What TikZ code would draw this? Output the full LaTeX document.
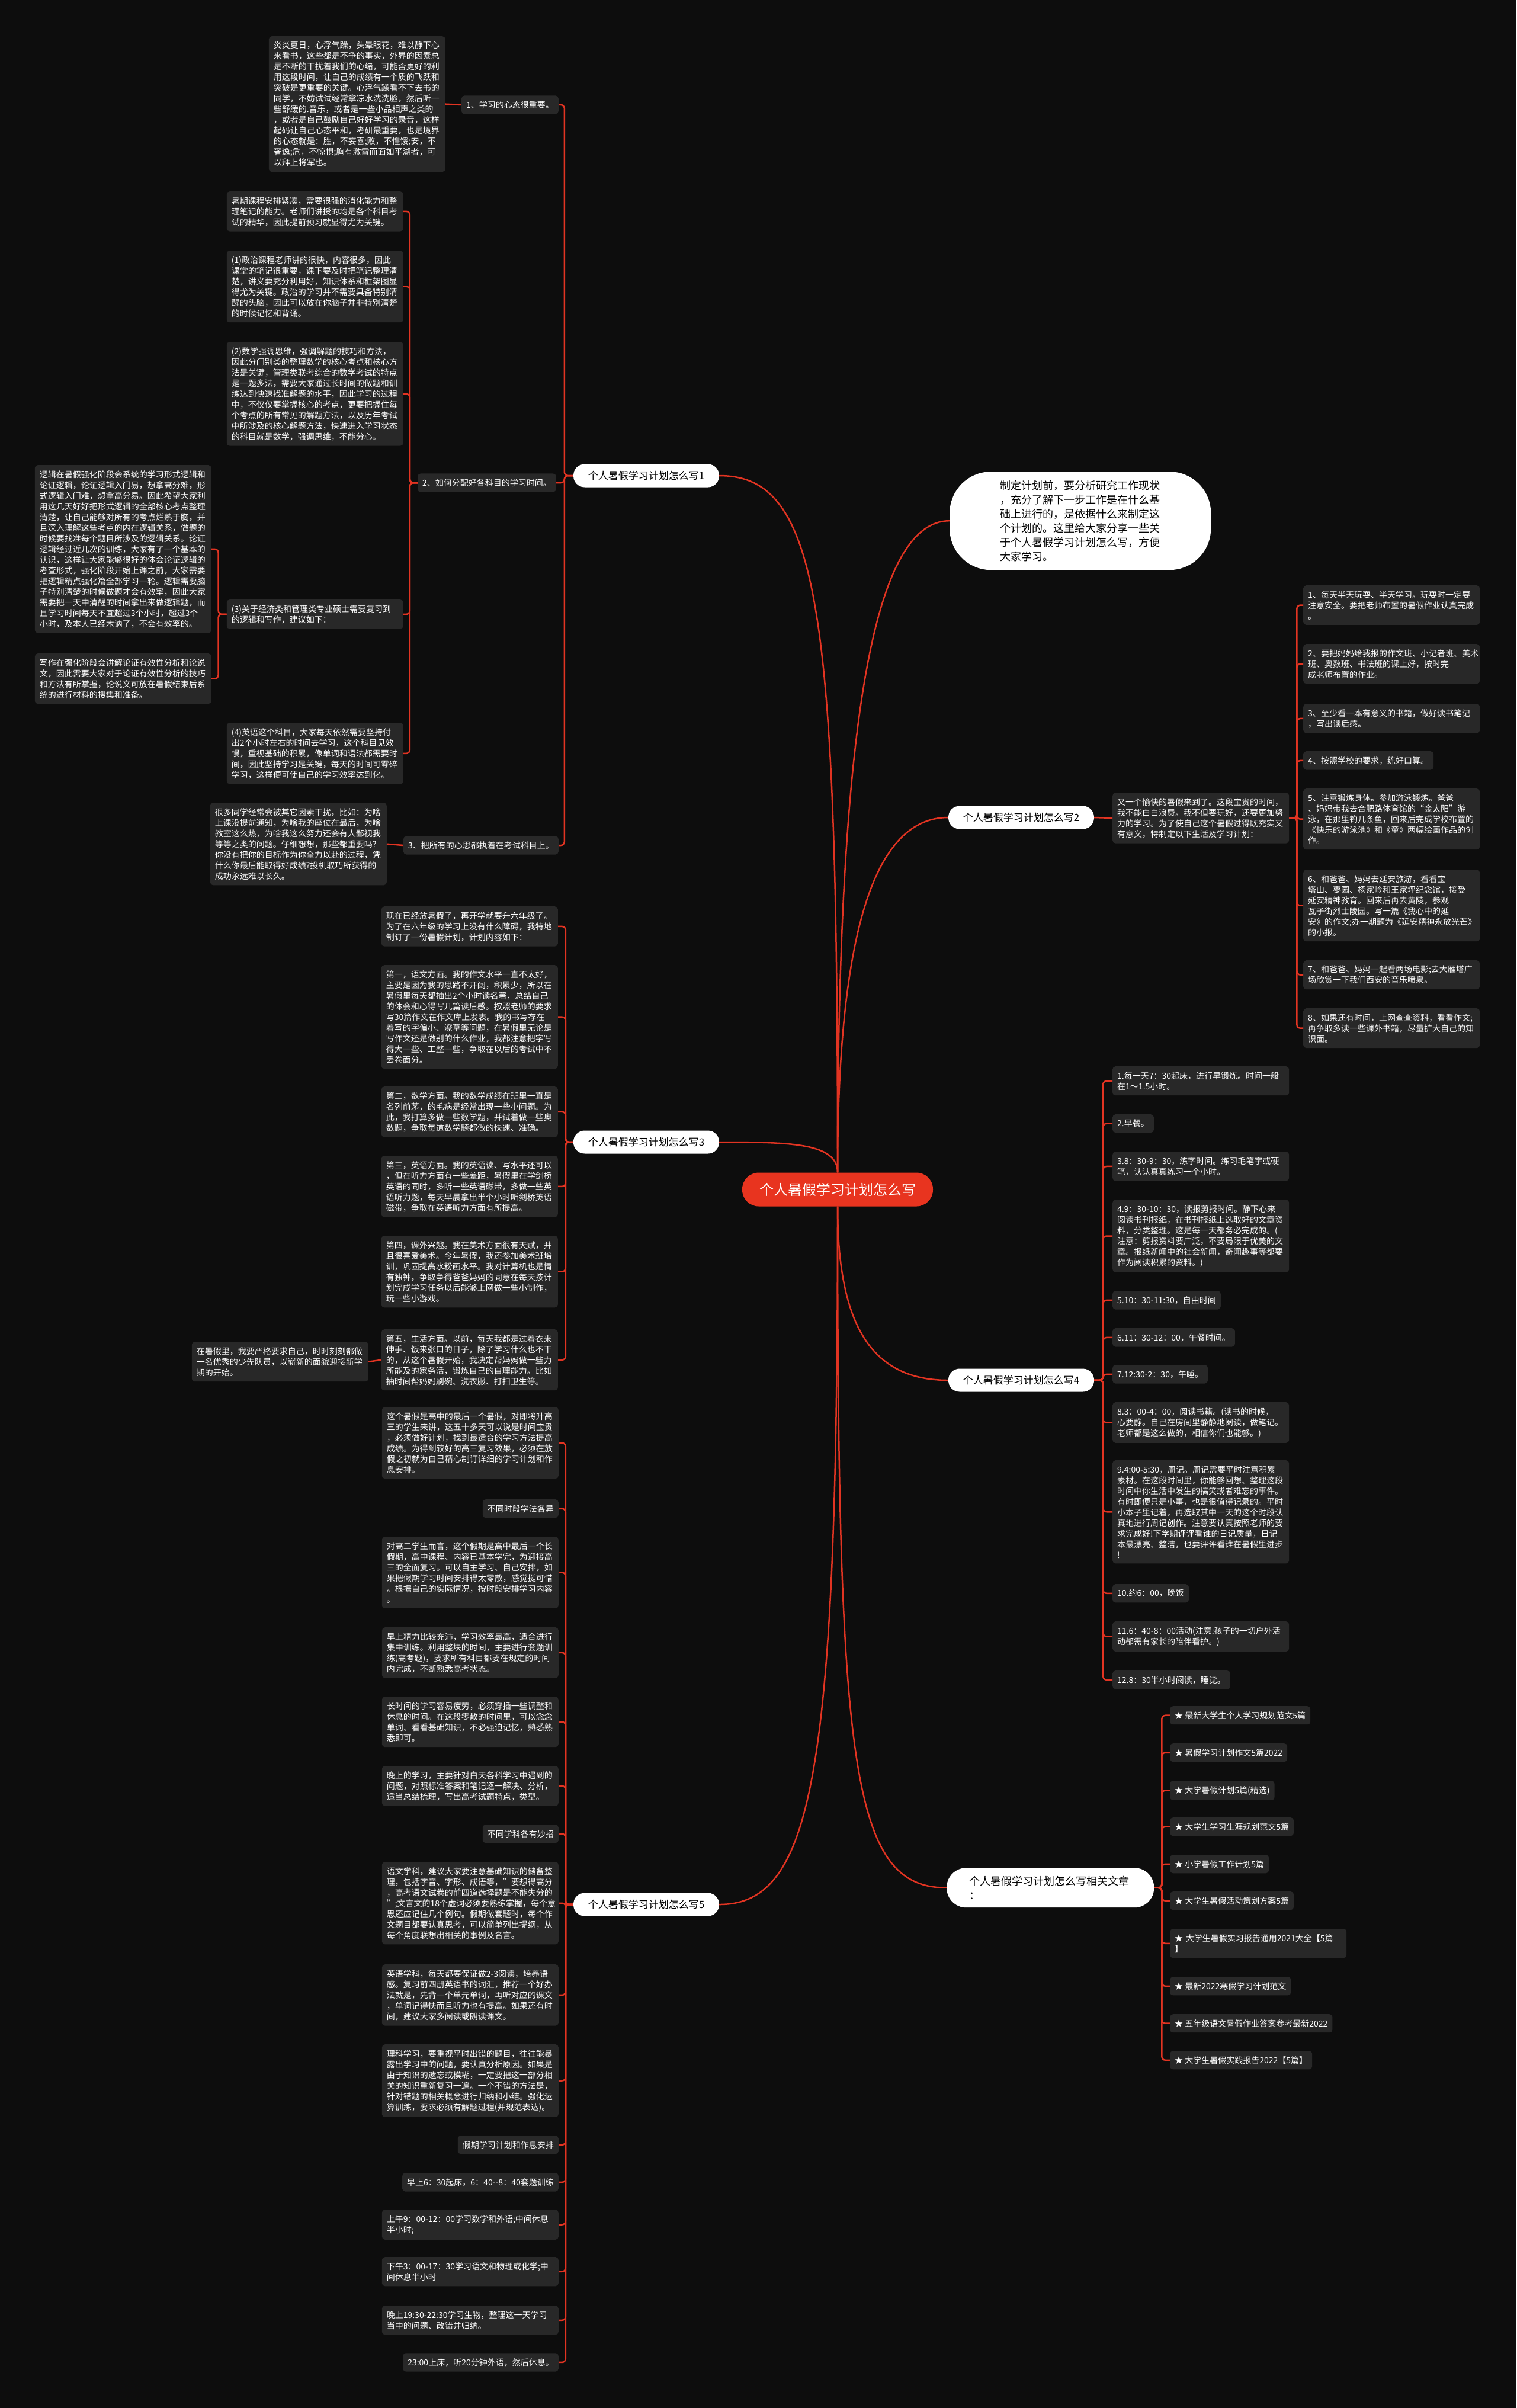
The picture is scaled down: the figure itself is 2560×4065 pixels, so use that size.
\documentclass[tikz,border=0pt]{standalone}
\usepackage{fontspec}
\setmainfont{Noto Sans CJK SC}
\usetikzlibrary{positioning}
\definecolor{bgdark}{RGB}{13,13,13}
\definecolor{cardgray}{RGB}{40,40,40}
\definecolor{linkred}{RGB}{226,52,34}
\definecolor{hubred}{RGB}{232,52,31}
\tikzset{
card/.style={fill=cardgray,rounded corners=5pt,text=white,align=left,text width=282pt,inner xsep=8pt,inner ysep=9pt,font=\fontsize{14}{18}\selectfont},
tag/.style={fill=cardgray,rounded corners=5pt,text=white,align=left,inner xsep=8pt,inner ysep=9pt,font=\fontsize{14}{18}\selectfont},
branch/.style={fill=white,rounded corners=19pt,text=black,minimum width=246pt,minimum height=39pt,font=\fontsize{17}{20}\selectfont},
hub/.style={fill=hubred,rounded corners=28pt,text=white,minimum width=322pt,minimum height=57pt,font=\fontsize{24}{28}\selectfont},
link/.style={draw=linkred,line width=2.5pt,rounded corners=6pt},
sweep/.style={draw=linkred,line width=2.5pt}
}

\begin{document}
\begin{tikzpicture}[x=1pt,y=-1pt]
\fill[bgdark] (0,0) rectangle (2560,4065);
\useasboundingbox (0,0) rectangle (2560,4065);

% centre and main branches
\node[hub](plan) at (1414,2008){个人暑假学习计划怎么写};
\node[branch](b1) at (1091,803){个人暑假学习计划怎么写1};
\node[branch](b2) at (1724,1380){个人暑假学习计划怎么写2};
\node[branch](b3) at (1091,1928){个人暑假学习计划怎么写3};
\node[branch](b4) at (1724,2330){个人暑假学习计划怎么写4};
\node[branch](b5) at (1091,3215){个人暑假学习计划怎么写5};
\node[fill=white,rounded corners=70pt,text=black,anchor=north west,minimum width=441pt,minimum height=166pt,text width=270pt,align=left,font=\fontsize{18}{24}\selectfont](intro) at (1603,796){制定计划前，要分析研究工作现状\\，充分了解下一步工作是在什么基\\础上进行的，是依据什么来制定这\\个计划的。这里给大家分享一些关\\于个人暑假学习计划怎么写，方便\\大家学习。};
\node[fill=white,rounded corners=33pt,text=black,anchor=north west,minimum width=350pt,minimum height=67pt,text width=273pt,align=left,font=\fontsize{18}{24}\selectfont](related) at (1598,3153){个人暑假学习计划怎么写相关文章\\：};

% branch 1
\node[tag,anchor=east](mood) at (943,177){1、学习的心态很重要。};
\node[card,anchor=north east](moodtxt) at (752,61){炎炎夏日，心浮气躁，头晕眼花，难以静下心\\来看书，这些都是不争的事实，外界的因素总\\是不断的干扰着我们的心绪，可能否更好的利\\用这段时间，让自己的成绩有一个质的飞跃和\\突破是更重要的关键。心浮气躁看不下去书的\\同学，不妨试试经常拿凉水洗洗脸，然后听一\\些舒缓的.音乐，或者是一些小品相声之类的\\，或者是自己鼓励自己好好学习的录音，这样\\起码让自己心态平和，考研最重要，也是境界\\的心态就是：胜，不妄喜;败，不惶馁;安，不\\奢逸;危，不惊惧;胸有激雷而面如平湖者，可\\以拜上将军也。};
\node[tag,anchor=east](alloc) at (939,815){2、如何分配好各科目的学习时间。};
\node[card,anchor=north east](alloca) at (681,323){暑期课程安排紧凑，需要很强的消化能力和整\\理笔记的能力。老师们讲授的均是各个科目考\\试的精华，因此提前预习就显得尤为关键。};
\node[card,anchor=north east](allocb) at (681,423){(1)政治课程老师讲的很快，内容很多，因此\\课堂的笔记很重要，课下要及时把笔记整理清\\楚，讲义要充分利用好，知识体系和框架图显\\得尤为关键。政治的学习并不需要具备特别清\\醒的头脑，因此可以放在你脑子并非特别清楚\\的时候记忆和背诵。};
\node[card,anchor=north east](allocc) at (681,577){(2)数学强调思维，强调解题的技巧和方法，\\因此分门别类的整理数学的核心考点和核心方\\法是关键，管理类联考综合的数学考试的特点\\是一题多法，需要大家通过长时间的做题和训\\练达到快速找准解题的水平，因此学习的过程\\中，不仅仅要掌握核心的考点，更要把握住每\\个考点的所有常见的解题方法，以及历年考试\\中所涉及的核心解题方法，快速进入学习状态\\的科目就是数学，强调思维，不能分心。};
\node[card,anchor=north east](allocd) at (681,1012){(3)关于经济类和管理类专业硕士需要复习到\\的逻辑和写作，建议如下：};
\node[card,anchor=north east](logic) at (357,785){逻辑在暑假强化阶段会系统的学习形式逻辑和\\论证逻辑，论证逻辑入门易，想拿高分难，形\\式逻辑入门难，想拿高分易。因此希望大家利\\用这几天好好把形式逻辑的全部核心考点整理\\清楚，让自己能够对所有的考点烂熟于胸，并\\且深入理解这些考点的内在逻辑关系，做题的\\时候要找准每个题目所涉及的逻辑关系。论证\\逻辑经过近几次的训练，大家有了一个基本的\\认识，这样让大家能够很好的体会论证逻辑的\\考查形式，强化阶段开始上课之前，大家需要\\把逻辑精点强化篇全部学习一轮。逻辑需要脑\\子特别清楚的时候做题才会有效率，因此大家\\需要把一天中清醒的时间拿出来做逻辑题，而\\且学习时间每天不宜超过3个小时，超过3个\\小时，及本人已经木讷了，不会有效率的。};
\node[card,anchor=north east](essay) at (357,1103){写作在强化阶段会讲解论证有效性分析和论说\\文，因此需要大家对于论证有效性分析的技巧\\和方法有所掌握，论说文可放在暑假结束后系\\统的进行材料的搜集和准备。};
\node[card,anchor=north east](allocE) at (681,1220){(4)英语这个科目，大家每天依然需要坚持付\\出2个小时左右的时间去学习，这个科目见效\\慢，重视基础的积累，像单词和语法都需要时\\间，因此坚持学习是关键，每天的时间可零碎\\学习，这样便可使自己的学习效率达到化。};
\node[tag,anchor=east](focus) at (943,1427){3、把所有的心思都执着在考试科目上。};
\node[card,anchor=north east](focustxt) at (653,1355){很多同学经常会被其它因素干扰，比如：为啥\\上课没提前通知，为啥我的座位在最后，为啥\\教室这么热，为啥我这么努力还会有人鄙视我\\等等之类的问题。仔细想想，那些都重要吗?\\你没有把你的目标作为你全力以赴的过程，凭\\什么你最后能取得好成绩?投机取巧所获得的\\成功永远难以长久。};

% branch 2
\node[card,anchor=north west](b2txt) at (1878,1338){又一个愉快的暑假来到了。这段宝贵的时间，\\我不能白白浪费。我不但要玩好，还要更加努\\力的学习。为了使自己这个暑假过得既充实又\\有意义，特制定以下生活及学习计划：};
\node[card,anchor=north west](goal1) at (2200,988){1、每天半天玩耍、半天学习。玩耍时一定要\\注意安全。要把老师布置的暑假作业认真完成\\。};
\node[card,anchor=north west](goal2) at (2200,1087){2、要把妈妈给我报的作文班、小记者班、美术\\班、奥数班、书法班的课上好，按时完\\成老师布置的作业。};
\node[card,anchor=north west](goal3) at (2200,1188){3、至少看一本有意义的书籍，做好读书笔记\\，写出读后感。};
\node[tag,anchor=north west](goal4) at (2200,1268){4、按照学校的要求，练好口算。};
\node[card,anchor=north west](goal5) at (2200,1331){5、注意锻炼身体。参加游泳锻炼。爸爸\\、妈妈带我去合肥路体育馆的“金太阳”游\\泳，在那里钓几条鱼，回来后完成学校布置的\\《快乐的游泳池》和《童》两幅绘画作品的创\\作。};
\node[card,anchor=north west](goal6) at (2200,1468){6、和爸爸、妈妈去延安旅游，看看宝\\塔山、枣园、杨家岭和王家坪纪念馆，接受\\延安精神教育。回来后再去黄陵，参观\\瓦子街烈士陵园。写一篇《我心中的延\\安》的作文;办一期题为《延安精神永放光芒》\\的小报。};
\node[card,anchor=north west](goal7) at (2200,1621){7、和爸爸、妈妈一起看两场电影;去大雁塔广\\场欣赏一下我们西安的音乐喷泉。};
\node[card,anchor=north west](goal8) at (2200,1702){8、如果还有时间，上网查查资料，看看作文;\\再争取多读一些课外书籍，尽量扩大自己的知\\识面。};

% branch 3
\node[card,anchor=north east](grade6) at (942,1530){现在已经放暑假了，再开学就要升六年级了。\\为了在六年级的学习上没有什么障碍，我特地\\制订了一份暑假计划，计划内容如下：};
\node[card,anchor=north east](chinese) at (942,1629){第一，语文方面。我的作文水平一直不太好，\\主要是因为我的思路不开阔，积累少，所以在\\暑假里每天都抽出2个小时读名著，总结自己\\的体会和心得写几篇读后感。按照老师的要求\\写30篇作文在作文库上发表。我的书写存在\\着写的字偏小、潦草等问题，在暑假里无论是\\写作文还是做别的什么作业，我都注意把字写\\得大一些、工整一些，争取在以后的考试中不\\丢卷面分。};
\node[card,anchor=north east](maths) at (942,1834){第二，数学方面。我的数学成绩在班里一直是\\名列前茅，的毛病是经常出现一些小问题。为\\此，我打算多做一些数学题，并试着做一些奥\\数题，争取每道数学题都做的快速、准确。};
\node[card,anchor=north east](english) at (942,1951){第三，英语方面。我的英语读、写水平还可以\\，但在听力方面有一些差距，暑假里在学剑桥\\英语的同时，多听一些英语磁带，多做一些英\\语听力题，每天早晨拿出半个小时听剑桥英语\\磁带，争取在英语听力方面有所提高。};
\node[card,anchor=north east](hobby) at (942,2086){第四，课外兴趣。我在美术方面很有天赋，并\\且很喜爱美术。今年暑假，我还参加美术班培\\训，巩固提高水粉画水平。我对计算机也是情\\有独钟，争取争得爸爸妈妈的同意在每天按计\\划完成学习任务以后能够上网做一些小制作，\\玩一些小游戏。};
\node[card,anchor=north east](life) at (942,2244){第五，生活方面。以前，每天我都是过着衣来\\伸手、饭来张口的日子，除了学习什么也不干\\的，从这个暑假开始，我决定帮妈妈做一些力\\所能及的家务活，锻炼自己的自理能力。比如\\抽时间帮妈妈刷碗、洗衣服、打扫卫生等。};
\node[card,anchor=north east](pioneer) at (622,2265){在暑假里，我要严格要求自己，时时刻刻都做\\一名优秀的少先队员，以崭新的面貌迎接新学\\期的开始。};

% branch 4
\node[card,anchor=north west](t1) at (1878,1800){1.每一天7：30起床，进行早锻炼。时间一般\\在1～1.5小时。};
\node[tag,anchor=north west](t2) at (1878,1881){2.早餐。};
\node[card,anchor=north west](t3) at (1878,1944){3.8：30-9：30，练字时间。练习毛笔字或硬\\笔，认认真真练习一个小时。};
\node[card,anchor=north west](t4) at (1878,2025){4.9：30-10：30，读报剪报时间。静下心来\\阅读书刊报纸，在书刊报纸上选取好的文章资\\料，分类整理。这是每一天都务必完成的。(\\注意：剪报资料要广泛，不要局限于优美的文\\章。报纸新闻中的社会新闻，奇闻趣事等都要\\作为阅读积累的资料。)};
\node[tag,anchor=north west](t5) at (1878,2179){5.10：30-11:30，自由时间};
\node[tag,anchor=north west](t6) at (1878,2242){6.11：30-12：00，午餐时间。};
\node[tag,anchor=north west](t7) at (1878,2304){7.12:30-2：30，午睡。};
\node[card,anchor=north west](t8) at (1878,2367){8.3：00-4：00，阅读书籍。(读书的时候，\\心要静。自己在房间里静静地阅读，做笔记。\\老师都是这么做的，相信你们也能够。)};
\node[card,anchor=north west](t9) at (1878,2465){9.4:00-5:30，周记。周记需要平时注意积累\\素材。在这段时间里，你能够回想、整理这段\\时间中你生活中发生的搞笑或者难忘的事件。\\有时即便只是小事，也是很值得记录的。平时\\小本子里记着，再选取其中一天的这个时段认\\真地进行周记创作。注意要认真按照老师的要\\求完成好!下学期评评看谁的日记质量，日记\\本最漂亮、整洁，也要评评看谁在暑假里进步\\!};
\node[tag,anchor=north west](t10) at (1878,2674){10.约6：00，晚饭};
\node[card,anchor=north west](t11) at (1878,2737){11.6：40-8：00活动(注意:孩子的一切户外活\\动都需有家长的陪伴看护。)};
\node[tag,anchor=north west](t12) at (1878,2820){12.8：30半小时阅读，睡觉。};

% branch 5
\node[card,anchor=north east](senior) at (943,2375){这个暑假是高中的最后一个暑假，对即将升高\\三的学生来讲，这五十多天可以说是时间宝贵\\，必须做好计划，找到最适合的学习方法提高\\成绩。为得到较好的高三复习效果，必须在放\\假之初就为自己精心制订详细的学习计划和作\\息安排。};
\node[tag,anchor=north east](slots) at (943,2531){不同时段学法各异};
\node[card,anchor=north east](junior) at (943,2594){对高二学生而言，这个假期是高中最后一个长\\假期，高中课程、内容已基本学完，为迎接高\\三的全面复习。可以自主学习、自己安排，如\\果把假期学习时间安排得太零散，感觉挺可惜\\。根据自己的实际情况，按时段安排学习内容\\。};
\node[card,anchor=north east](morning) at (943,2747){早上精力比较充沛，学习效率最高，适合进行\\集中训练。利用整块的时间，主要进行套题训\\练(高考题)，要求所有科目都要在规定的时间\\内完成，不断熟悉高考状态。};
\node[card,anchor=north east](rest) at (943,2864){长时间的学习容易疲劳，必须穿插一些调整和\\休息的时间。在这段零散的时间里，可以念念\\单词、看看基础知识，不必强迫记忆，熟悉熟\\悉即可。};
\node[card,anchor=north east](evening) at (943,2981){晚上的学习，主要针对白天各科学习中遇到的\\问题，对照标准答案和笔记逐一解决、分析，\\适当总结梳理，写出高考试题特点，类型。};
\node[tag,anchor=north east](subjects) at (943,3080){不同学科各有妙招};
\node[card,anchor=north east](yuwen) at (943,3143){语文学科，建议大家要注意基础知识的储备整\\理，包括字音、字形、成语等，"要想得高分\\，高考语文试卷的前四道选择题是不能失分的\\";文言文的18个虚词必须要熟练掌握，每个意\\思还应记住几个例句。假期做套题时，每个作\\文题目都要认真思考，可以简单列出提纲，从\\每个角度联想出相关的事例及名言。};
\node[card,anchor=north east](yingyu) at (943,3316){英语学科，每天都要保证做2-3阅读，培养语\\感。复习前四册英语书的词汇，推荐一个好办\\法就是，先背一个单元单词，再听对应的课文\\，单词记得快而且听力也有提高。如果还有时\\间，建议大家多阅读或朗读课文。};
\node[card,anchor=north east](science) at (943,3451){理科学习，要重视平时出错的题目，往往能暴\\露出学习中的问题，要认真分析原因。如果是\\由于知识的遗忘或模糊，一定要把这一部分相\\关的知识重新复习一遍。一个不错的方法是，\\针对错题的相关概念进行归纳和小结。强化运\\算训练，要求必须有解题过程(并规范表达)。};
\node[tag,anchor=north east](routine) at (943,3605){假期学习计划和作息安排};
\node[tag,anchor=north east](r1) at (943,3668){早上6：30起床，6：40{-}{-}8：40套题训练};
\node[card,anchor=north east](r2) at (943,3730){上午9：00-12：00学习数学和外语;中间休息\\半小时;};
\node[card,anchor=north east](r3) at (943,3810){下午3：00-17：30学习语文和物理或化学;中\\间休息半小时};
\node[card,anchor=north east](r4) at (943,3892){晚上19:30-22:30学习生物，整理这一天学习\\当中的问题、改错并归纳。};
\node[tag,anchor=north east](r5) at (943,3972){23:00上床，听20分钟外语，然后休息。};

% related articles
\node[tag,anchor=north west](a1) at (1975,2880){★ 最新大学生个人学习规划范文5篇};
\node[tag,anchor=north west](a2) at (1975,2943){★ 暑假学习计划作文5篇2022};
\node[tag,anchor=north west](a3) at (1975,3006){★ 大学暑假计划5篇(精选)};
\node[tag,anchor=north west](a4) at (1975,3068){★ 大学生学习生涯规划范文5篇};
\node[tag,anchor=north west](a5) at (1975,3131){★ 小学暑假工作计划5篇};
\node[tag,anchor=north west](a6) at (1975,3193){★ 大学生暑假活动策划方案5篇};
\node[card,anchor=north west](a7) at (1975,3256){★ 大学生暑假实习报告通用2021大全【5篇\\】};
\node[tag,anchor=north west](a8) at (1975,3337){★ 最新2022寒假学习计划范文};
\node[tag,anchor=north west](a9) at (1975,3400){★ 五年级语文暑假作业答案参考最新2022};
\node[tag,anchor=north west](a10) at (1975,3462){★ 大学生暑假实践报告2022【5篇】};

% centre links
\draw[sweep](plan.north) .. controls +(0,-950) and +(170,0) .. (b1.east);
\draw[sweep](plan.north) .. controls +(0,-750) and +(-130,0) .. (intro.west);
\draw[sweep](plan.north) .. controls +(0,-420) and +(-120,0) .. (b2.west);
\draw[sweep](plan.north) .. controls +(0,-50) and +(120,0) .. (b3.east);
\draw[sweep](plan.south) .. controls +(0,200) and +(-130,0) .. (b4.west);
\draw[sweep](plan.south) .. controls +(0,950) and +(-160,0) .. (related.west);
\draw[sweep](plan.south) .. controls +(0,950) and +(160,0) .. (b5.east);

% tree links
\foreach \c in {mood,alloc,focus}
  \draw[link](b1.west) -- ++(-15,0) |- (\c.east);
\draw[link](mood.west) -- (moodtxt.east);
\foreach \c in {alloca,allocb,allocc,allocd,allocE}
  \draw[link](alloc.west) -- ++(-13,0) |- (\c.east);
\foreach \c in {logic,essay}
  \draw[link](allocd.west) -- ++(-14,0) |- (\c.east);
\draw[link](focus.west) -- (focustxt.east);
\draw[link](b2.east) -- (b2txt.west);
\foreach \c in {goal1,goal2,goal3,goal4,goal5,goal6,goal7,goal8}
  \draw[link](b2txt.east) -- ++(13,0) |- (\c.west);
\foreach \c in {grade6,chinese,maths,english,hobby,life}
  \draw[link](b3.west) -- ++(-13,0) |- (\c.east);
\draw[link](life.west) -- (pioneer.east);
\foreach \c in {t1,t2,t3,t4,t5,t6,t7,t8,t9,t10,t11,t12}
  \draw[link](b4.east) -- ++(15,0) |- (\c.west);
\foreach \c in {senior,slots,junior,morning,rest,evening,subjects,yuwen,yingyu,science,routine,r1,r2,r3,r4,r5}
  \draw[link](b5.west) -- ++(-13,0) |- (\c.east);
\foreach \c in {a1,a2,a3,a4,a5,a6,a7,a8,a9,a10}
  \draw[link](related.east) -- ++(13,0) |- (\c.west);
\end{tikzpicture}
\end{document}
